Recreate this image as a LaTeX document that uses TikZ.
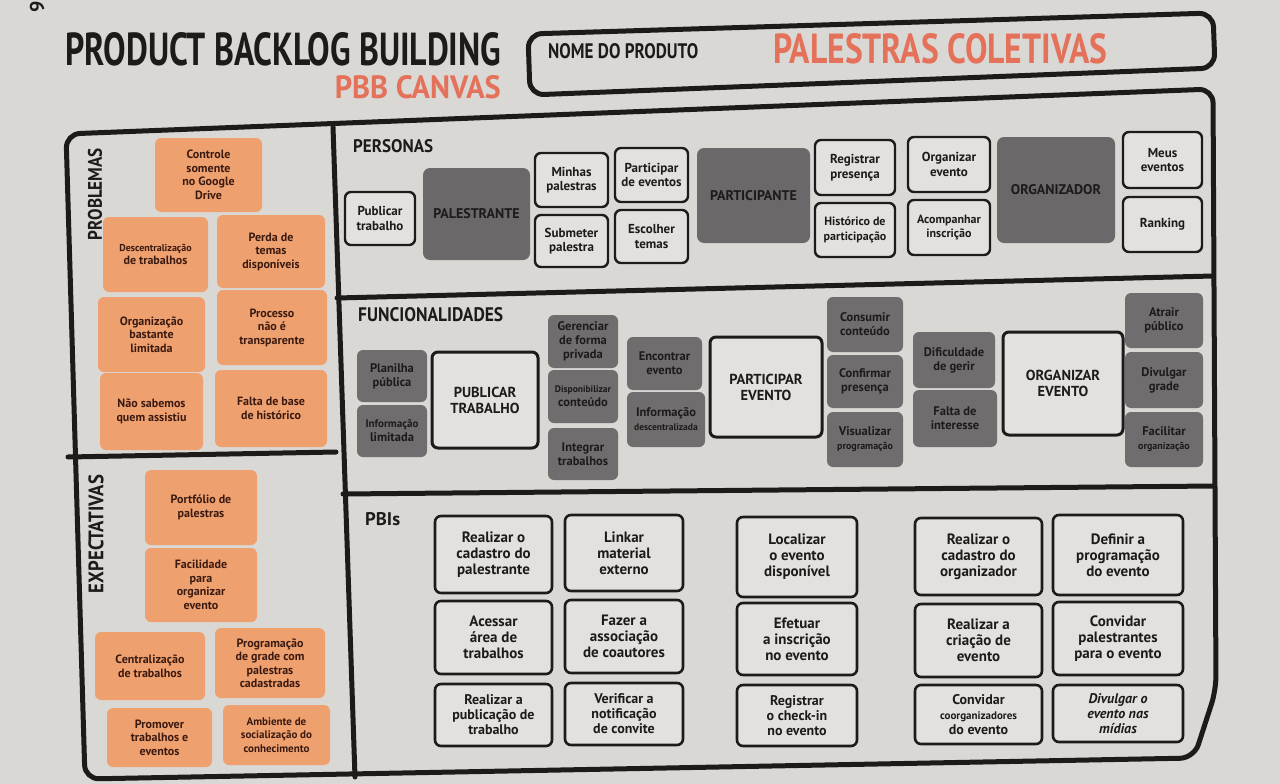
\documentclass[tikz,border=0pt]{standalone}
\usepackage{fontspec}
\setmainfont{PT Sans}
\usepackage{graphicx}
\definecolor{paper}{HTML}{DAD8D5}
\definecolor{cardbg}{HTML}{E3E1DE}
\definecolor{orangeS}{HTML}{EFA06F}
\definecolor{greyS}{HTML}{6F6D6D}
\definecolor{greyP}{HTML}{6A6868}
\definecolor{ink}{HTML}{1E1A1A}
\definecolor{brownT}{HTML}{3A1A10}
\definecolor{orangeT}{HTML}{E4715A}
\newcommand\Bx[7]{\node[#2,minimum width={#5-#3},minimum height={#6-#4}] (#1) at ({(#3+#5)/2},{(#4+#6)/2}) {#7};}
\newcommand\Fit[3]{\resizebox{#1pt}{#2pt}{\bfseries #3}}
\newcommand\Fs[1]{\fontsize{#1}{13}\selectfont}
\begin{document}
\begin{tikzpicture}[x=1pt,y=-1pt,
  frame/.style={draw=ink,line width=5pt,line join=round,line cap=round},
  osticky/.style={fill=orangeS,rounded corners=6pt,align=center,text=brownT,inner sep=1pt,font=\bfseries\fontsize{12}{13.5}\selectfont},
  gsticky/.style={fill=greyS,rounded corners=6pt,align=center,text=ink,inner sep=1pt,font=\bfseries\fontsize{12.5}{14}\selectfont},
  persona/.style={fill=greyP,rounded corners=7pt,align=center,text=ink,inner sep=1pt,font=\bfseries\fontsize{14}{16}\selectfont},
  card/.style={draw=ink,line width=2.4pt,fill=cardbg,rounded corners=6pt,align=center,text=ink,inner sep=1pt,font=\bfseries\fontsize{13}{14.5}\selectfont},
  bigcard/.style={card,line width=3pt,font=\bfseries\fontsize{14.5}{16}\selectfont},
  pbi/.style={card,line width=2.6pt,font=\bfseries\fontsize{15}{16}\selectfont},
  pbis/.style={pbi,font=\bfseries\fontsize{14}{15}\selectfont},
  lbl/.style={inner sep=0pt,text=ink}]
\useasboundingbox (0,0) rectangle (1280,784);
\fill[paper] (0,0) rectangle (1280,784);

% page number
\node[lbl,rotate=90,font=\bfseries\fontsize{20}{20}\selectfont] (pg) at (37,7) {9};

% titles
\node[lbl,anchor=south west] (title) at (65,66) {\Fit{436}{33}{PRODUCT BACKLOG BUILDING}};
\node[lbl,anchor=south east,text=orangeT] (canvas) at (501,99) {\Fit{166}{23}{PBB CANVAS}};

% product name box
\draw[frame,rounded corners=14pt] (528,34) -- (1213,13) -- (1215,68) -- (530,95) -- cycle;
\node[lbl,anchor=south west] (nome) at (548,59) {\Fit{150}{15}{NOME DO PRODUTO}};
\node[lbl,anchor=south west,text=orangeT] (prod) at (773,64) {\Fit{334}{30}{PALESTRAS COLETIVAS}};

% main frame
\draw[frame,rounded corners=14pt] (66,134) -- (1213,89) -- (1216,690) -- (1194,758) -- (85,779) -- cycle;
\draw[frame] (333,127) -- (355,777);
\draw[frame] (337,298) -- (1213,276);
\draw[frame] (343,494) -- (1214,486);
\draw[frame] (68,457) -- (336,452);

% section labels
\node[lbl,rotate=90] (lprob) at (95,194) {\Fit{92}{14}{PROBLEMAS}};
\node[lbl,rotate=90] (lexp) at (96,534) {\Fit{118}{15}{EXPECTATIVAS}};
\node[lbl,anchor=south west] (lpers) at (353,153) {\Fit{80}{13}{PERSONAS}};
\node[lbl,anchor=south west] (lfunc) at (358,322) {\Fit{145}{14}{FUNCIONALIDADES}};
\node[lbl,anchor=south west] (lpbi) at (365,526) {\Fit{35}{13}{PBIs}};

% problemas
\Bx{p1}{osticky}{155}{138}{262}{212}{Controle\\somente\\no Google\\Drive}
\Bx{p2}{osticky}{103}{217}{208}{292}{{\Fs{10}Descentralização}\\de trabalhos}
\Bx{p3}{osticky}{217}{215}{325}{288}{Perda de\\temas\\disponíveis}
\Bx{p4}{osticky}{98}{297}{205}{372}{Organização\\bastante\\limitada}
\Bx{p5}{osticky}{217}{290}{327}{365}{Processo\\não é\\transparente}
\Bx{p6}{osticky}{100}{373}{203}{450}{Não sabemos\\quem assistiu}
\Bx{p7}{osticky}{215}{370}{327}{447}{Falta de base\\de histórico}

% expectativas
\Bx{e1}{osticky}{145}{470}{257}{545}{Portfólio de\\palestras}
\Bx{e2}{osticky}{145}{548}{257}{622}{Facilidade\\para\\organizar\\evento}
\Bx{e3}{osticky}{95}{632}{205}{700}{Centralização\\de trabalhos}
\Bx{e4}{osticky}{215}{628}{325}{698}{Programação\\de grade com\\palestras\\cadastradas}
\Bx{e5}{osticky}{107}{708}{212}{767}{Promover\\trabalhos e\\eventos}
\Bx{e6}{osticky}{223}{705}{330}{765}{{\Fs{11}Ambiente de}\\{\Fs{11}socialização do}\\{\Fs{11}conhecimento}}

% personas
\Bx{c1}{card}{345}{192}{415}{245}{Publicar\\trabalho}
\Bx{gPal}{persona}{423}{168}{530}{260}{PALESTRANTE}
\Bx{c2}{card}{535}{153}{608}{207}{Minhas\\palestras}
\Bx{c3}{card}{615}{148}{688}{202}{Participar\\de eventos}
\Bx{c4}{card}{535}{215}{608}{267}{Submeter\\palestra}
\Bx{c5}{card}{615}{210}{688}{263}{Escolher\\temas}
\Bx{gPar}{persona}{697}{148}{810}{243}{PARTICIPANTE}
\Bx{c6}{card}{815}{140}{895}{195}{Registrar\\presença}
\Bx{c7}{card}{908}{137}{990}{192}{Organizar\\evento}
\Bx{c8}{card}{815}{203}{895}{257}{{\Fs{12}Histórico de}\\{\Fs{12}participação}}
\Bx{c9}{card}{908}{200}{990}{255}{{\Fs{12}Acompanhar}\\{\Fs{12}inscrição}}
\Bx{gOrg}{persona}{997}{137}{1115}{243}{ORGANIZADOR}
\Bx{c10}{card}{1123}{132}{1202}{188}{Meus\\eventos}
\Bx{c11}{card}{1123}{197}{1202}{252}{Ranking}

% funcionalidades
\Bx{f1}{gsticky}{357}{350}{427}{402}{Planilha\\pública}
\Bx{f2}{gsticky}{357}{405}{427}{457}{{\Fs{11}Informação}\\limitada}
\Bx{F1}{bigcard}{432}{352}{538}{448}{PUBLICAR\\TRABALHO}
\Bx{f3}{gsticky}{548}{315}{618}{368}{Gerenciar\\de forma\\privada}
\Bx{f4}{gsticky}{548}{370}{618}{423}{{\Fs{9.5}Disponibilizar}\\conteúdo}
\Bx{f5}{gsticky}{548}{428}{618}{480}{Integrar\\trabalhos}
\Bx{f6}{gsticky}{627}{337}{702}{390}{Encontrar\\evento}
\Bx{f7}{gsticky}{627}{392}{705}{447}{Informação\\{\Fs{9.5}descentralizada}}
\Bx{F2}{bigcard}{710}{337}{822}{437}{PARTICIPAR\\EVENTO}
\Bx{f8}{gsticky}{827}{297}{903}{352}{Consumir\\conteúdo}
\Bx{f9}{gsticky}{827}{355}{903}{408}{Confirmar\\presença}
\Bx{f10}{gsticky}{827}{412}{903}{467}{Visualizar\\{\Fs{10}programação}}
\Bx{f11}{gsticky}{913}{332}{995}{388}{Dificuldade\\de gerir}
\Bx{f12}{gsticky}{913}{390}{997}{447}{Falta de\\interesse}
\Bx{F3}{bigcard}{1003}{332}{1123}{435}{ORGANIZAR\\EVENTO}
\Bx{f13}{gsticky}{1125}{293}{1203}{348}{Atrair\\público}
\Bx{f14}{gsticky}{1125}{352}{1203}{408}{Divulgar\\grade}
\Bx{f15}{gsticky}{1125}{412}{1203}{467}{Facilitar\\{\Fs{10}organização}}

% PBIs
\Bx{b11}{pbi}{435}{516}{552}{593}{Realizar o\\cadastro do\\palestrante}
\Bx{b21}{pbi}{435}{601}{552}{674}{Acessar\\área de\\trabalhos}
\Bx{b31}{pbis}{435}{684}{552}{746}{Realizar a\\publicação de\\trabalho}
\Bx{b12}{pbi}{565}{515}{683}{591}{Linkar\\material\\externo}
\Bx{b22}{pbi}{565}{600}{683}{673}{Fazer a\\associação\\de coautores}
\Bx{b32}{pbis}{565}{683}{683}{745}{Verificar a\\notificação\\de convite}
\Bx{b13}{pbi}{737}{517}{857}{597}{Localizar\\o evento\\disponível}
\Bx{b23}{pbi}{737}{603}{857}{675}{Efetuar\\a inscrição\\no evento}
\Bx{b33}{pbis}{737}{685}{857}{746}{Registrar\\o check-in\\no evento}
\Bx{b14}{pbi}{915}{518}{1042}{595}{Realizar o\\cadastro do\\organizador}
\Bx{b24}{pbi}{915}{604}{1042}{677}{Realizar a\\criação de\\evento}
\Bx{b34}{pbis}{915}{685}{1042}{744}{Convidar\\{\fontsize{11}{14}\selectfont coorganizadores}\\do evento}
\Bx{b15}{pbi}{1053}{515}{1183}{595}{Definir a\\programação\\do evento}
\Bx{b25}{pbi}{1053}{602}{1183}{675}{Convidar\\palestrantes\\para o evento}
\Bx{b35}{pbis}{1053}{685}{1183}{742}{\itshape Divulgar o\\\itshape evento nas\\\itshape mídias}
\end{tikzpicture}
\end{document}
